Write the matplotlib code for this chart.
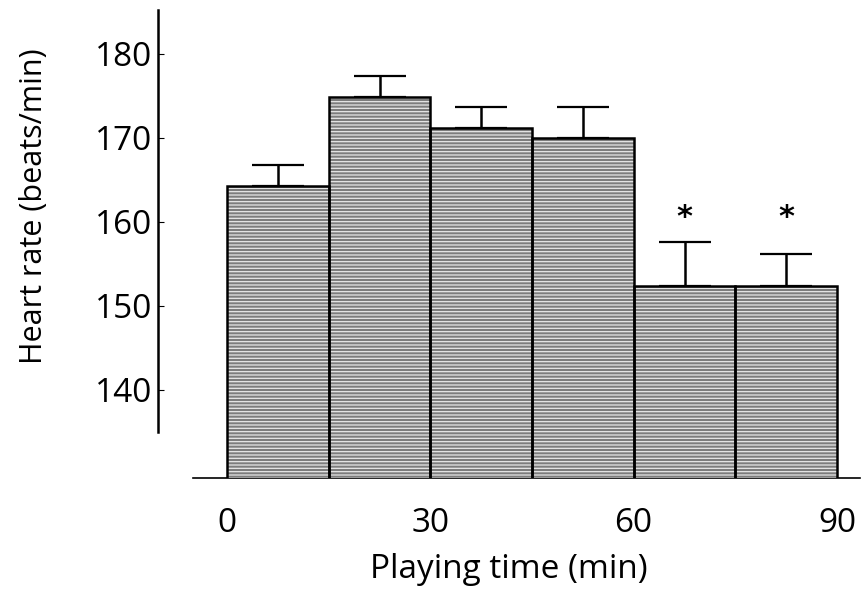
import numpy as np
import matplotlib
matplotlib.use("Agg")
import matplotlib.pyplot as plt

plt.rcParams['font.family'] = ['Open Sans', 'DejaVu Sans']
plt.rcParams['hatch.linewidth'] = 0.9

# data
bin_start = [0, 15, 30, 45, 60, 75]
heart_rate = [164.2, 174.9, 171.2, 170.0, 152.3, 152.3]
err_upper = [2.5, 2.5, 2.5, 3.7, 5.3, 3.9]
signif = [False, False, False, False, True, True]
xticks = [0, 30, 60, 90]
yticks = [140, 150, 160, 170, 180]

W, H = 863, 594
fig = plt.figure(figsize=(W / 100, H / 100), dpi=100)
ax = fig.add_axes([158 / W, 1 - 478 / H, (860 - 158) / W, (478 - 10) / H])
ax.set_xlim(-10.2, 93.4)
ax.set_ylim(129.5, 185.2)

centers = np.array(bin_start) + 7.5

# error bars (upper only)
ax.errorbar(centers, heart_rate, yerr=[np.zeros(len(err_upper)), err_upper],
            fmt='none', ecolor='black', elinewidth=1.8, capsize=18.5,
            capthick=1.6, zorder=2)

# textured grey fill, then black outline
ax.bar(bin_start, heart_rate, width=15, align='edge', bottom=0,
       color='#7d7d7d', edgecolor='#e8e8e8', hatch='-----', linewidth=0,
       zorder=3)
ax.bar(bin_start, heart_rate, width=15, align='edge', bottom=0,
       fill=False, edgecolor='black', linewidth=1.8, zorder=4)

# significance marks, all at one level above the highest flagged cap
tops = np.array(heart_rate) + np.array(err_upper)
star_y = tops[np.array(signif)].max() + 2.9
for c, s in zip(centers, signif):
    if s:
        ax.text(c, star_y, '*', ha='center', va='center', fontsize=22,
                fontweight='bold', family='DejaVu Sans')

for side in ['top', 'right']:
    ax.spines[side].set_visible(False)
ax.spines['left'].set_bounds(135, 185.2)
ax.spines['left'].set_linewidth(1.8)
ax.spines['bottom'].set_bounds(-5, 93.4)
ax.spines['bottom'].set_linewidth(1.2)

ax.set_yticks(yticks)
ax.tick_params(axis='y', direction='in', length=4, width=0.8,
               labelsize=24, pad=4)
ax.set_xticks(xticks)
ax.tick_params(axis='x', length=0, labelsize=24, pad=21)

ax.set_xlabel('Playing time (min)', fontsize=24, labelpad=9)
ax.set_ylabel('Heart rate (beats/min)', fontsize=22, labelpad=33, y=0.58)

fig.savefig('out.png', dpi=100)
